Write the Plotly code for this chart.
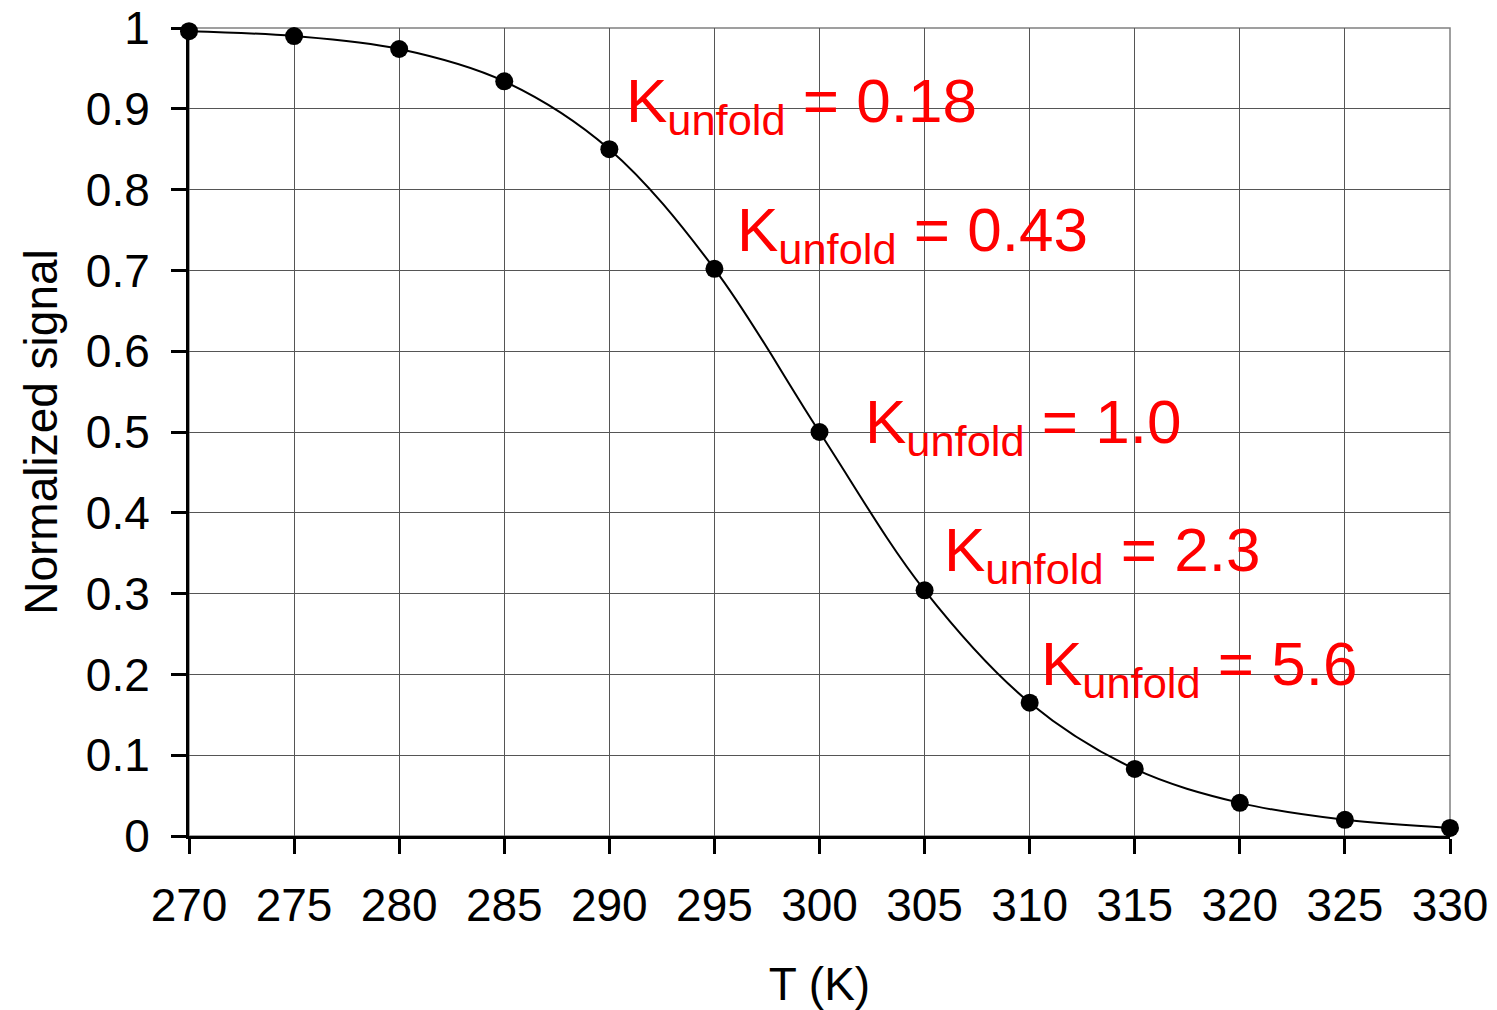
import plotly.graph_objects as go

temps = [270, 275, 280, 285, 290, 295, 300, 305, 310, 315, 320, 325, 330]
signal = [0.996, 0.990, 0.974, 0.934, 0.850, 0.702, 0.500, 0.304, 0.165, 0.083, 0.041, 0.020, 0.010]

labels_x = [290.68, 295.97, 302.05, 305.85, 310.43]
labels_y = [0.905, 0.745, 0.508, 0.349, 0.208]
labels_k = ["0.18", "0.43", "1.0", "2.3", "5.6"]

x_ticks = list(range(270, 331, 5))
y_ticks = [0, 0.1, 0.2, 0.3, 0.4, 0.5, 0.6, 0.7, 0.8, 0.9, 1]
y_tick_text = ["0", "0.1", "0.2", "0.3", "0.4", "0.5", "0.6", "0.7", "0.8", "0.9", "1"]

FONT = "Liberation Sans, Arial, sans-serif"

fig = go.Figure()
fig.add_trace(go.Scatter(
    x=temps, y=signal, mode="lines+markers",
    line=dict(color="black", width=2, shape="spline", smoothing=1.0),
    marker=dict(color="black", size=18),
    showlegend=False, cliponaxis=False,
))

for lx, ly, k in zip(labels_x, labels_y, labels_k):
    fig.add_annotation(
        x=lx, y=ly, xref="x", yref="y", xanchor="left", yanchor="middle",
        text=f"K<sub>unfold</sub> = {k}", showarrow=False,
        font=dict(family=FONT, size=62, color="#ff0000"),
    )

fig.add_shape(type="rect", xref="paper", yref="paper", x0=0, y0=0, x1=1, y1=1,
              line=dict(color="#808080", width=1.5), layer="below")

fig.update_layout(
    width=1497, height=1010,
    margin=dict(l=189, r=47, t=28, b=174, autoexpand=False),
    paper_bgcolor="white", plot_bgcolor="white",
    font=dict(family=FONT, size=46, color="black"),
    xaxis=dict(
        range=[270, 330], tickvals=x_ticks, ticktext=[str(t) for t in x_ticks],
        showgrid=True, gridcolor="#555555", gridwidth=1,
        showline=True, linecolor="black", linewidth=3,
        ticks="outside", ticklen=15, tickwidth=3, tickcolor="black",
        ticklabelstandoff=12, automargin=False,
        title=dict(text="T (K)", font=dict(size=46), standoff=38),
        zeroline=False,
    ),
    yaxis=dict(
        range=[0, 1], tickvals=y_ticks, ticktext=y_tick_text,
        showgrid=True, gridcolor="#555555", gridwidth=1,
        showline=True, linecolor="black", linewidth=3,
        ticks="outside", ticklen=15, tickwidth=3, tickcolor="black",
        ticklabelstandoff=12, automargin=False,
        title=dict(text="Normalized signal", font=dict(size=46), standoff=14),
        zeroline=False,
    ),
)

fig.write_html("out.html")
